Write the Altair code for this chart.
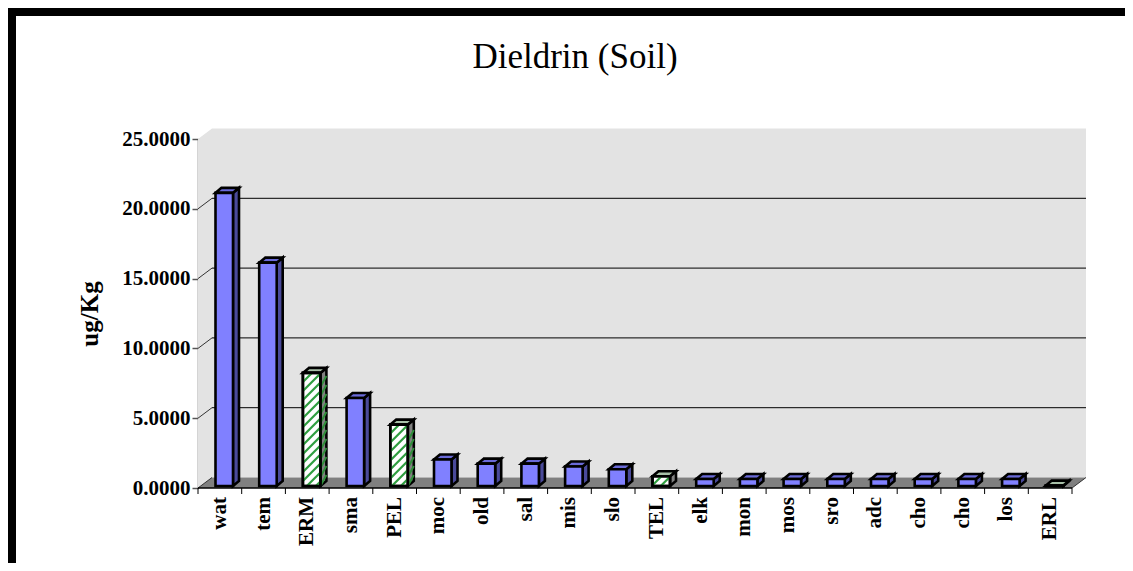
import altair as alt
import pandas as pd

FONT = "Liberation Serif"
categories = ["wat", "tem", "ERM", "sma", "PEL", "moc", "old", "sal", "mis", "slo",
              "TEL", "elk", "mon", "mos", "sro", "adc", "cho", "cho", "los", "ERL"]
values = [21.0, 16.0, 8.1, 6.3, 4.4, 1.9, 1.6, 1.6, 1.4, 1.2,
          0.7, 0.5, 0.5, 0.5, 0.5, 0.5, 0.5, 0.5, 0.5, 0.03]
guideline = ["ERM", "PEL", "TEL", "ERL"]
y_ticks = [0, 5, 10, 15, 20, 25]
grid_values = [5, 10, 15, 20]

W, H = 874, 349
YMAX = 25
PX_X = 20 / W
PX_Y = YMAX / H
WALL_DX, WALL_DY = 14 * PX_X, 10.5 * PX_Y
BAR_L, BAR_R = 17.5 * PX_X, 35 * PX_X
BAR_BASE = 2 * PX_Y
BAR_DX, BAR_DY = 6 * PX_X, 5 * PX_Y
PERIOD = 9.0
PAD_BOTTOM = 75
PAD_RIGHT = 53

xs = alt.Scale(domain=[0, 20], nice=False, zero=False)
ys = alt.Scale(domain=[0, YMAX], nice=False, zero=False)
y_axis = alt.Axis(
    values=y_ticks, format=".4f", title="ug/Kg", titleFont=FONT, titleFontSize=25,
    titleFontWeight="bold", titleColor="black", titlePadding=19,
    labelFont=FONT, labelFontSize=21, labelFontWeight="bold", labelColor="black",
    domainColor="#555555", domainWidth=1.5, tickColor="#555555", tickSize=6, tickWidth=1.5,
    labelPadding=2, grid=False)
X = alt.X("x:Q", scale=xs, axis=None)
Y = alt.Y("y:Q", scale=ys, axis=y_axis)


def clip_stripes(i, x0, x1, y0, y1):
    """45-degree stripes inside a box, in pixel offsets converted to data units."""
    out = []
    w = (x1 - x0) / PX_X
    h = (y1 - y0) / PX_Y
    k = -h
    n = 0
    while k < w + PERIOD:
        py0 = max(0.0, -k)
        py1 = min(h, w - k)
        if py1 > py0:
            out.append(dict(id=f"{i}-{n}",
                            x=x0 + (k + py0) * PX_X, x2=x0 + (k + py1) * PX_X,
                            y=y0 + py0 * PX_Y, y2=y0 + py1 * PX_Y))
        k += PERIOD
        n += 1
    return out


def side_stripes(i, x1, y0, y1):
    """Short stripes across the sheared side face of a hatched bar."""
    out = []
    h = (y1 - y0) / PX_Y
    k = 0.0
    n = 0
    while k + 11 < h:
        out.append(dict(id=f"s{i}-{n}", x=x1, x2=x1 + BAR_DX,
                        y=y0 + k * PX_Y, y2=y0 + (k + 11) * PX_Y))
        k += PERIOD
        n += 1
    return out


front, side, top, stripes, sstripes = [], [], [], [], []
for i, (c, v) in enumerate(zip(categories, values)):
    x0, x1 = i + BAR_L, i + BAR_R
    y0, y1 = BAR_BASE, BAR_BASE + v
    kind = "g" if c in guideline else "b"
    front.append(dict(id=i, x=x0, x2=x1, y=y0, y2=y1, kind=kind))
    side += [dict(id=i, x=x1, y=y0, y2=y1, kind=kind),
             dict(id=i, x=x1 + BAR_DX, y=y0 + BAR_DY, y2=y1 + BAR_DY, kind=kind)]
    top += [dict(id=i, y=y1, x=x0, x2=x1, kind=kind),
            dict(id=i, y=y1 + BAR_DY, x=x0 + BAR_DX, x2=x1 + BAR_DX, kind=kind)]
    if kind == "g":
        stripes += clip_stripes(i, x0, x1, y0, y1)
        sstripes += side_stripes(i, x1, y0, y1)

front = pd.DataFrame(front)
side = pd.DataFrame(side)
top = pd.DataFrame(top)
stripes = pd.DataFrame(stripes)
sstripes = pd.DataFrame(sstripes)

wall = pd.DataFrame([
    dict(x=0, y=0, y2=YMAX),
    dict(x=WALL_DX, y=WALL_DY, y2=YMAX + WALL_DY),
    dict(x=20 + WALL_DX, y=WALL_DY, y2=YMAX + WALL_DY),
])
floor = pd.DataFrame([
    dict(y=0, x=0, x2=20),
    dict(y=WALL_DY, x=WALL_DX, x2=20 + WALL_DX),
])
grid = pd.DataFrame([dict(x=WALL_DX, x2=20 + WALL_DX, y=g + WALL_DY) for g in grid_values])
diag = pd.DataFrame([dict(x=0, x2=WALL_DX, y=g, y2=g + WALL_DY) for g in grid_values + [0]]
                    + [dict(x=20, x2=20 + WALL_DX, y=0, y2=WALL_DY)])
xticks = pd.DataFrame([dict(x=i) for i in range(21)])
labels = pd.DataFrame([dict(x=i + 0.5, c=c) for i, c in enumerate(categories)])

fill_scale = alt.Scale(domain=["b", "g"], range=["#8080ff", "#ffffff"])
side_scale = alt.Scale(domain=["b", "g"], range=["#4a4a9a", "#808080"])
top_scale = alt.Scale(domain=["b", "g"], range=["#6a6ad8", "#a8c0a8"])

one = pd.DataFrame({"a": [0]})
border_top = alt.Chart(one).mark_rect(color="black").encode(
    x=alt.value(-190), x2=alt.value(W + PAD_RIGHT), y=alt.value(-131), y2=alt.value(-123))
border_left = alt.Chart(one).mark_rect(color="black").encode(
    x=alt.value(-190), x2=alt.value(-182), y=alt.value(-131), y2=alt.value(H + PAD_BOTTOM))
title = alt.Chart(pd.DataFrame({"t": ["Dieldrin (Soil)"]})).mark_text(
    font=FONT, fontSize=35, color="black", align="center", baseline="middle").encode(
    x=alt.value(377), y=alt.value(-82), text="t:N")

STROKE = 2.6
layers = [
    alt.Chart(wall).mark_area(color="#e3e3e3").encode(x=X, y=Y, y2="y2:Q"),
    border_top, border_left, title,
    alt.Chart(floor).mark_area(color="#808080", orient="horizontal").encode(
        y=Y, x=X, x2="x2:Q"),
    alt.Chart(grid).mark_rule(color="black", strokeWidth=1).encode(x=X, x2="x2:Q", y=Y),
    alt.Chart(diag).mark_rule(color="#333333", strokeWidth=1).encode(x=X, x2="x2:Q", y=Y, y2="y2:Q"),
    alt.Chart(xticks).mark_rule(color="black", strokeWidth=1).encode(
        x=X, y=alt.value(H), y2=alt.value(H + 6)),
    alt.Chart(pd.DataFrame({"x": [0], "x2": [20], "y": [0]})).mark_rule(color="black", strokeWidth=1.5).encode(
        x=X, x2="x2:Q", y=Y),
    alt.Chart(side).mark_area(stroke="black", strokeWidth=STROKE, strokeJoin="miter", opacity=1).encode(
        x=X, y=Y, y2="y2:Q", detail="id:N",
        fill=alt.Fill("kind:N", scale=side_scale, legend=None)),
    alt.Chart(sstripes).mark_rule(color="#2f8f3a", strokeWidth=2).encode(
        x=X, x2="x2:Q", y=Y, y2="y2:Q"),
    alt.Chart(top).mark_area(stroke="black", strokeWidth=STROKE, orient="horizontal", opacity=1).encode(
        y=Y, x=X, x2="x2:Q", detail="id:N",
        fill=alt.Fill("kind:N", scale=top_scale, legend=None)),
    alt.Chart(front).mark_rect(stroke="black", strokeWidth=STROKE).encode(
        x=X, x2="x2:Q", y=Y, y2="y2:Q",
        fill=alt.Fill("kind:N", scale=fill_scale, legend=None)),
    alt.Chart(stripes).mark_rule(color="#2f9e3f", strokeWidth=2.2).encode(
        x=X, x2="x2:Q", y=Y, y2="y2:Q"),
    alt.Chart(front[front.kind == "g"]).mark_rect(fillOpacity=0, stroke="black", strokeWidth=STROKE).encode(
        x=X, x2="x2:Q", y=Y, y2="y2:Q"),
    alt.Chart(labels).mark_text(font=FONT, fontSize=21, fontWeight="bold", color="black",
                                angle=270, align="right", baseline="middle").encode(
        x=X, y=alt.value(H + 9), text="c:N"),
]

chart = alt.layer(*layers).resolve_scale(fill="independent").properties(
    width=W, height=H,
    autosize=alt.AutoSizeParams(type="none", contains="content"),
    padding={"left": 190, "top": 131, "right": PAD_RIGHT, "bottom": PAD_BOTTOM},
    background="white",
).configure_view(stroke=None)

chart.save("out.html", embed_options={"renderer": "svg", "actions": False})
